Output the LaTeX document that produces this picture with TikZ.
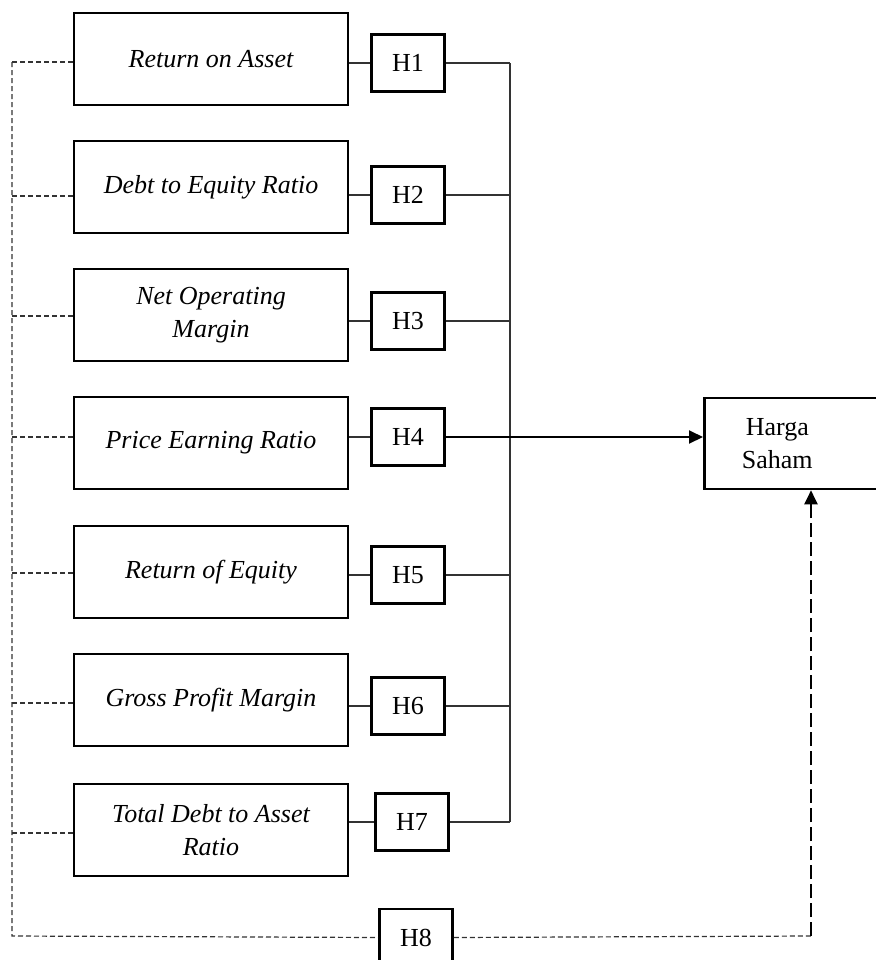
\documentclass[tikz,border=0pt]{standalone}
\usepackage{fontspec}
\setmainfont{Liberation Serif}
\usetikzlibrary{arrows.meta}

\begin{document}
\begin{tikzpicture}[x=0.5pt, y=-0.5pt,
    every node/.style={font=\fontsize{13}{16.5}\selectfont},
    varbox/.style={draw, line width=1.3pt, minimum width=137pt, minimum height=46pt,
        align=center, font=\fontsize{13}{16.5}\selectfont\itshape},
    hypbox/.style={draw, line width=1.3pt, minimum width=36.5pt, minimum height=28.5pt, inner sep=0pt},
    outbox/.style={draw, line width=1.3pt, minimum width=94pt, minimum height=45.5pt, align=center},
    link/.style={line width=0.6pt, draw=black!80},
    dashlink/.style={line width=0.6pt, draw=black!80, dash pattern=on 2.5pt off 1.5pt},
    tip/.style={-{Triangle[length=7pt,width=6.5pt]}}]
    \useasboundingbox (0,0) rectangle (875,960);
    % variables, hypotheses and their links
    \coordinate (bus) at (510,0);
    \foreach \i/\by/\hx/\hy/\ly/\txt in {
        1/59/408/63/62/{Return on Asset},
        2/187/408/195/196/{Debt to Equity Ratio},
        3/315/408/321/316/{Net Operating\\Margin},
        4/443/408/437/437/{Price Earning Ratio},
        5/572/408/575/573/{Return of Equity},
        6/700/408/706/703/{Gross Profit Margin},
        7/830/412/822/833/{Total Debt to Asset\\Ratio}}{
        \node[varbox] (v\i) at (211,\by) {\txt};
        \node[hypbox] (h\i) at (\hx,\hy) {H\i};
        \coordinate (l\i) at (12,\ly);
        \draw[link] (v\i.east |- h\i) -- (h\i.west);
        \draw[dashlink] (l\i) -- (v\i.west |- l\i);
    }
    \foreach \i in {1,2,3,5,6,7}
        \draw[link] (h\i.east) -- (h\i.east -| bus);
    \draw[link] (h1.east -| bus) -- (h7.east -| bus);
    % dependent variable
    \node[outbox, anchor=west] (harga) at (703,443.5) {Harga\hspace*{21pt}\\Saham\hspace*{21pt}};
    \draw[line width=1pt, tip] (h4.east) -- (h4.east -| harga.west);
    % simultaneous path
    \node[hypbox] (h8) at (416,937.5) {H8};
    \coordinate (lb) at (12,936);
    \coordinate (rb) at (811,936);
    \draw[dashlink] (l1) -- (lb) -- (h8.west);
    \draw[dashlink] (h8.east) -- (rb);
    \draw[line width=1.1pt, dash pattern=on 7pt off 2.5pt, tip] (rb) -- (rb |- harga.south);
\end{tikzpicture}
\end{document}
